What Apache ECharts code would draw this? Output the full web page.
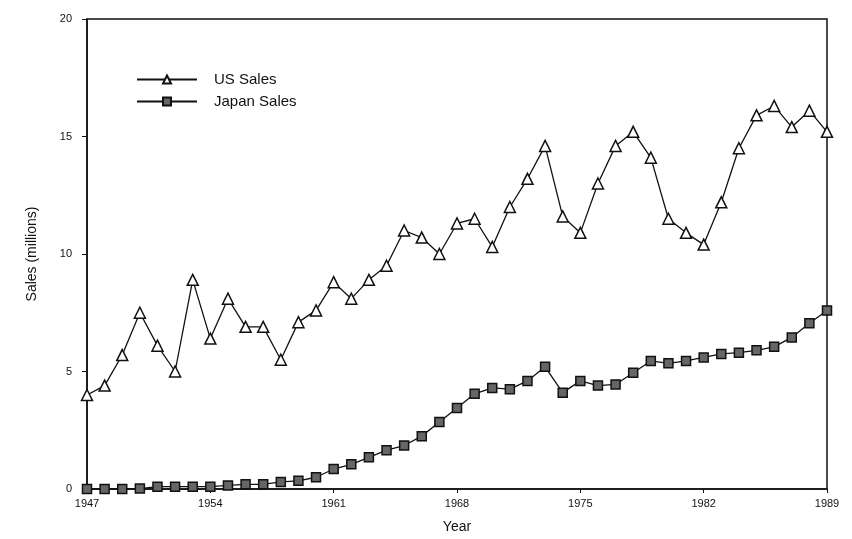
<!DOCTYPE html>
<html>
<head>
<meta charset="utf-8">
<script src="https://cdn.jsdelivr.net/npm/echarts@6/dist/echarts.min.js"></script>
<style>
  html, body { margin: 0; padding: 0; background: #fff; }
  #chart { width: 852px; height: 539px; }
</style>
</head>
<body>
<div id="chart"></div>
<script>
// years 1947..1989
const years = [
  '1947', '1948', '1949', '1950', '1951', '1952', '1953', '1954', '1955', '1956',
  '1957', '1958', '1959', '1960', '1961', '1962', '1963', '1964', '1965', '1966',
  '1967', '1968', '1969', '1970', '1971', '1972', '1973', '1974', '1975', '1976',
  '1977', '1978', '1979', '1980', '1981', '1982', '1983', '1984', '1985', '1986',
  '1987', '1988', '1989'
]

const usSales = [
  4.0, 4.4, 5.7, 7.5, 6.1, 5.0, 8.9, 6.4, 8.1, 6.9,
  6.9, 5.5, 7.1, 7.6, 8.8, 8.1, 8.9, 9.5, 11.0, 10.7,
  10.0, 11.3, 11.5, 10.3, 12.0, 13.2, 14.6, 11.6, 10.9, 13.0,
  14.6, 15.2, 14.1, 11.5, 10.9, 10.4, 12.2, 14.5, 15.9, 16.3,
  15.4, 16.1, 15.2
]

const japanSales = [
  0.0, 0.0, 0.0, 0.02, 0.1, 0.1, 0.1, 0.1, 0.15, 0.2,
  0.2, 0.3, 0.35, 0.5, 0.85, 1.05, 1.35, 1.65, 1.85, 2.25,
  2.85, 3.45, 4.05, 4.3, 4.25, 4.6, 5.2, 4.1, 4.6, 4.4,
  4.45, 4.95, 5.45, 5.35, 5.45, 5.6, 5.75, 5.8, 5.9, 6.05,
  6.45, 7.05, 7.6
]

const chart = echarts.init(document.getElementById('chart'))

const option = {
  animation: false,
  textStyle: { fontFamily: 'Liberation Sans, Arial, sans-serif', color: '#111' },
  grid: {
    left: 87,
    right: 25,
    top: 19,
    bottom: 50,
    outerBoundsMode: 'none',
    show: true,
    borderColor: '#111',
    borderWidth: 1.5
  },
  legend: {
    orient: 'vertical',
    left: 131,
    top: 67,
    itemWidth: 60,
    itemHeight: 10,
    itemGap: 7,
    textStyle: { fontSize: 15, color: '#111', padding: [0, 0, 0, 12] },
    data: ['US Sales', 'Japan Sales']
  },
  xAxis: {
    type: 'category',
    data: years,
    boundaryGap: false,
    name: 'Year',
    nameLocation: 'middle',
    nameGap: 31,
    nameTextStyle: { fontSize: 14, color: '#111' },
    axisLine: { lineStyle: { color: '#111', width: 1.5 } },
    axisTick: { interval: 6, length: 4, lineStyle: { color: '#111' } },
    axisLabel: { interval: 6, fontSize: 11, color: '#111', margin: 9 },
    splitLine: { show: false }
  },
  yAxis: {
    type: 'value',
    min: 0,
    max: 20,
    interval: 5,
    name: 'Sales (millions)',
    nameLocation: 'middle',
    nameGap: 48,
    nameTextStyle: { fontSize: 14, color: '#111' },
    axisLine: { show: true, lineStyle: { color: '#111', width: 1.5 } },
    axisTick: { show: true, length: 5, lineStyle: { color: '#111' } },
    axisLabel: { fontSize: 11, color: '#111', margin: 15 },
    splitLine: { show: false }
  },
  series: [
    {
      name: 'US Sales',
      type: 'line',
      data: usSales,
      symbol: 'triangle',
      symbolSize: 11,
      showAllSymbol: true,
      lineStyle: { color: '#111', width: 1.3 },
      itemStyle: { color: '#fff', borderColor: '#111', borderWidth: 1.5 }
    },
    {
      name: 'Japan Sales',
      type: 'line',
      data: japanSales,
      symbol: 'rect',
      symbolSize: 9,
      showAllSymbol: true,
      lineStyle: { color: '#111', width: 1.3 },
      itemStyle: { color: '#666', borderColor: '#111', borderWidth: 1.5 }
    }
  ]
}

chart.setOption(option)
</script>
</body>
</html>
